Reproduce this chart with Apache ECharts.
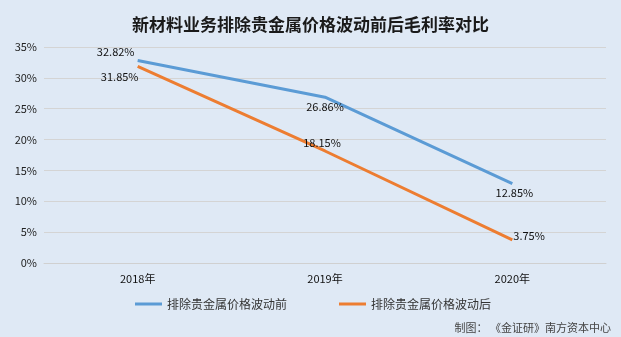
<!DOCTYPE html>
<html>
<head>
<meta charset="utf-8">
<script src="https://cdn.jsdelivr.net/npm/echarts@6/dist/echarts.min.js"></script>
<style>
html,body{margin:0;padding:0;background:#dfe9f5;}
#chart{width:621px;height:337px;}
</style>
</head>
<body>
<div id="chart"></div>
<script>
// Gross margin of the new-materials business, before/after excluding precious-metal price swings
const years = ['2018年', '2019年', '2020年'];
const beforeName = '排除贵金属价格波动前';
const afterName = '排除贵金属价格波动后';
const beforeValues = [32.82, 26.86, 12.85];
const afterValues = [31.85, 18.15, 3.75];
const yTicks = [0, 5, 10, 15, 20, 25, 30, 35];

const font = '"Microsoft YaHei","Noto Sans CJK SC",sans-serif';
const chart = echarts.init(document.getElementById('chart'));

// per-point label placement
const beforeLabelPos = ['top', 'bottom', 'bottom'];
const beforeLabelOff = [[-22, 2], [0, -1], [2, -1]];
const afterLabelPos = ['bottom', 'top', 'right'];
const afterLabelOff = [[-18, 0], [-3, 2], [-4, -4]];

function mkData(vals, positions, offsets) {
  return vals.map((v, i) => ({
    value: v,
    label: { position: positions[i], offset: offsets[i] }
  }));
}

const labelStyle = {
  show: true,
  formatter: p => p.value.toFixed(2) + '%',
  fontFamily: font, fontSize: 11, color: '#111'
};

chart.setOption({
  backgroundColor: '#dfe9f5',
  animation: false,
  title: {
    text: '新材料业务排除贵金属价格波动前后毛利率对比',
    left: 'center',
    top: 11,
    textStyle: { fontFamily: font, fontSize: 17, fontWeight: 'bold', color: '#1a1a1a' }
  },
  grid: { left: 44, right: 15, top: 47, bottom: 74 },
  legend: {
    top: 293,
    left: 130,
    itemGap: 52,
    itemWidth: 27,
    itemHeight: 3,
    icon: 'rect',
    textStyle: { fontFamily: font, fontSize: 12, color: '#333' },
    data: [beforeName, afterName]
  },
  graphic: [{
    type: 'text',
    right: 10,
    top: 322,
    style: { text: '制图： 《金证研》南方资本中心', font: '11px ' + font, fill: '#444' }
  }],
  xAxis: {
    type: 'category',
    data: years,
    boundaryGap: true,
    axisLine: { show: true, lineStyle: { color: '#d0d0d0' } },
    axisTick: { show: false },
    axisLabel: { fontFamily: font, fontSize: 11, color: '#111', margin: 10 }
  },
  yAxis: {
    type: 'value',
    min: yTicks[0],
    max: yTicks[yTicks.length - 1],
    interval: 5,
    axisLine: { show: false },
    axisTick: { show: false },
    splitLine: { lineStyle: { color: '#d4d4d4' } },
    axisLabel: { fontFamily: font, fontSize: 11, color: '#222', formatter: '{value}%', margin: 7 }
  },
  series: [
    {
      name: beforeName,
      type: 'line',
      data: mkData(beforeValues, beforeLabelPos, beforeLabelOff),
      color: '#5b9bd5',
      lineStyle: { width: 3 },
      showSymbol: true,
      symbol: 'circle',
      symbolSize: 0,
      label: labelStyle
    },
    {
      name: afterName,
      type: 'line',
      data: mkData(afterValues, afterLabelPos, afterLabelOff),
      color: '#ed7d31',
      lineStyle: { width: 3 },
      showSymbol: true,
      symbol: 'circle',
      symbolSize: 0,
      label: labelStyle
    }
  ]
});
</script>
</body>
</html>
